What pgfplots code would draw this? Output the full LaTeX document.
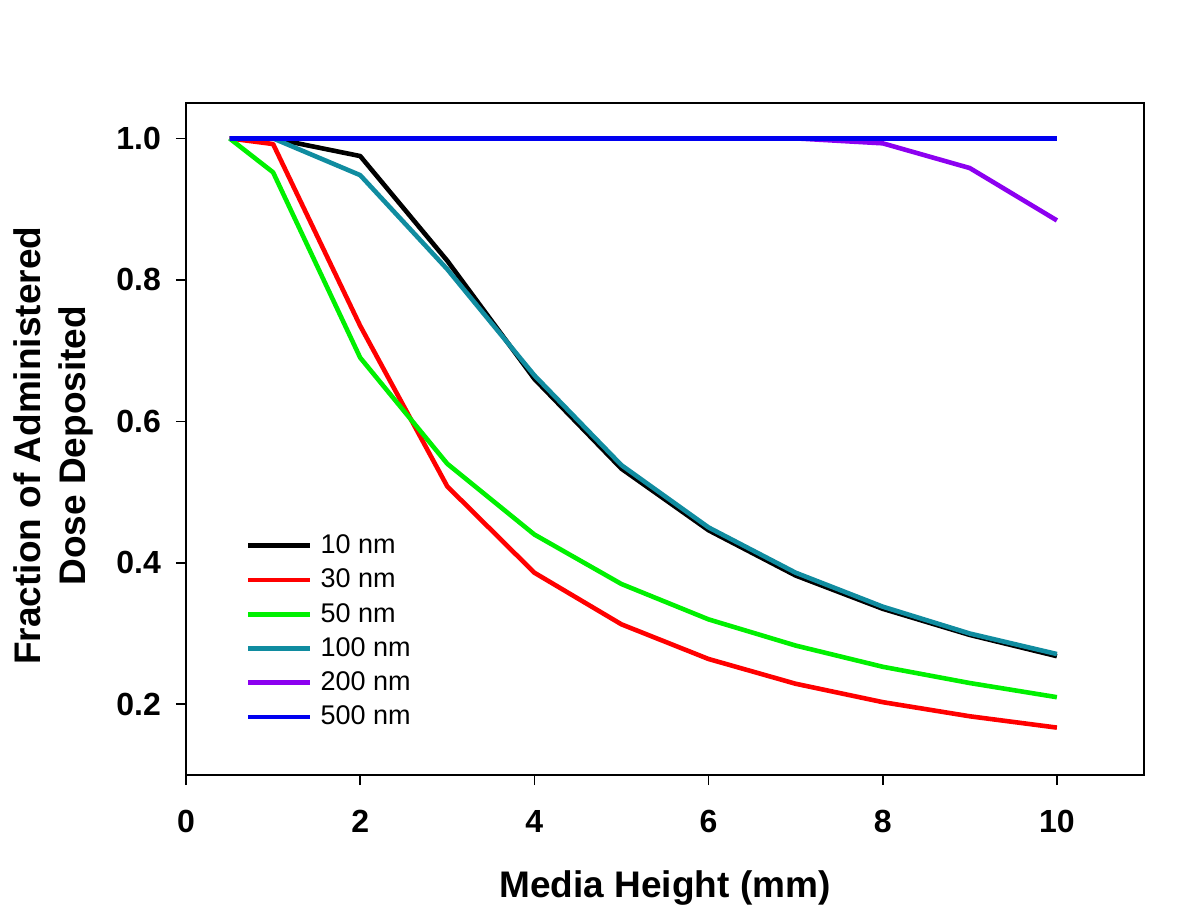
\documentclass[border=0pt]{standalone}
\usepackage{pgfplots}
\pgfplotsset{compat=1.18}
\usepackage{fontspec}
\setmainfont{Liberation Sans}
\definecolor{cblack}{RGB}{0,0,0}
\definecolor{cred}{RGB}{255,0,0}
\definecolor{cgreen}{RGB}{0,240,0}
\definecolor{cteal}{RGB}{16,140,160}
\definecolor{cpurple}{RGB}{140,0,240}
\definecolor{cblue}{RGB}{0,0,240}
\begin{document}
\begin{tikzpicture}
\path[use as bounding box] (-93pt,-68.5pt) rectangle (507pt,387.5pt);
\begin{axis}[
  at={(0pt,0pt)}, anchor=south west,
  scale only axis, width=479pt, height=336pt,
  xmin=0, xmax=11, ymin=0.1, ymax=1.05,
  xtick={0,2,4,6,8,10}, ytick={0.2,0.4,0.6,0.8,1.0},
  yticklabel style={/pgf/number format/fixed, /pgf/number format/fixed zerofill, /pgf/number format/precision=1},
  /pgf/number format/assume math mode=true,
  ticklabel style={font=\fontsize{16}{19}\selectfont\bfseries},
  tick align=outside, xtick pos=bottom, ytick pos=left,
  major tick length=5pt,
  tick style={black, line width=0.8pt},
  axis line style={line width=0.9pt},
  xlabel={Media Height (mm)},
  ylabel={Fraction of Administered\\Dose Deposited},
  ylabel style={align=center, font=\fontsize{18.5}{22.5}\selectfont\bfseries, at={(axis description cs:-0.09,0.49)}, anchor=south},
  xlabel style={font=\fontsize{18.5}{21}\selectfont\bfseries, yshift=-12pt},
  xticklabel style={yshift=-9pt},
  yticklabel style={xshift=-4pt},
  legend style={draw=none, fill=none, at={(axis description cs:0.056,0.37)}, anchor=north west,
    font=\fontsize{13.5}{16}\selectfont, row sep=2.2pt, legend cell align=left,
    nodes={inner xsep=4pt}},
  legend image code/.code={\draw[#1, line width=2.3pt] (0pt,0pt) -- (31pt,0pt);},
  every axis plot/.append style={line width=2.3pt, line join=round},
]
\addplot[cblack] coordinates {(0.5,1) (1,1.0) (2,0.975) (3,0.827) (4,0.66) (5,0.533) (6,0.446) (7,0.382) (8,0.335) (9,0.298) (10,0.268)};
\addlegendentry{10 nm}
\addplot[cred] coordinates {(0.5,1) (1,0.992) (2,0.735) (3,0.508) (4,0.386) (5,0.313) (6,0.264) (7,0.229) (8,0.203) (9,0.183) (10,0.167)};
\addlegendentry{30 nm}
\addplot[cgreen] coordinates {(0.5,1) (1,0.952) (2,0.69) (3,0.54) (4,0.44) (5,0.37) (6,0.32) (7,0.283) (8,0.253) (9,0.23) (10,0.21)};
\addlegendentry{50 nm}
\addplot[cteal] coordinates {(0.5,1) (1,1.0) (2,0.948) (3,0.815) (4,0.665) (5,0.538) (6,0.45) (7,0.386) (8,0.338) (9,0.3) (10,0.271)};
\addlegendentry{100 nm}
\addplot[cpurple] coordinates {(0.5,1) (1,1) (2,1) (3,1) (4,1) (5,1) (6,1) (7,1) (8,0.993) (9,0.958) (10,0.884)};
\addlegendentry{200 nm}
\addplot[cblue] coordinates {(0.5,1) (1,1) (2,1) (3,1) (4,1) (5,1) (6,1) (7,1) (8,1) (9,1) (10,1)};
\addlegendentry{500 nm}
\end{axis}
\end{tikzpicture}
\end{document}
